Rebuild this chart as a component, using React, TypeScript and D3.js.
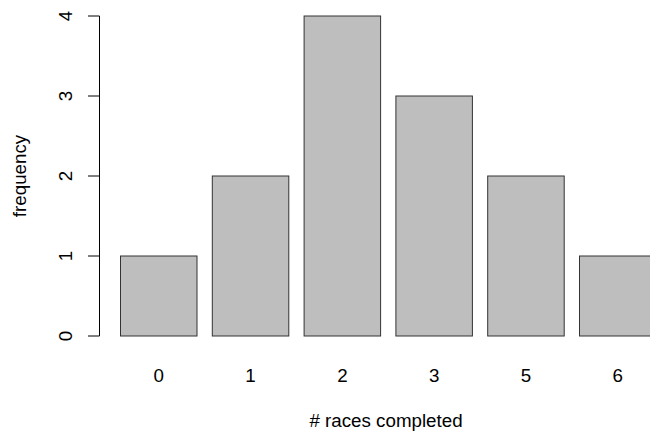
import React, { useRef, useEffect } from "react";
import * as d3 from "d3";

const categories = ["0", "1", "2", "3", "5", "6"];
const frequency = [1, 2, 4, 3, 2, 1];
const yTicks = [0, 1, 2, 3, 4];

const App = () => {
  const svgRef = useRef<SVGSVGElement>(null);

  useEffect(() => {
    const w = 650;
    const h = 434;
    const svg = d3.select(svgRef.current);
    svg.selectAll("*").remove();

    const step = 91.8;
    const x0 = 105.2;
    const xScale = d3
      .scaleBand()
      .domain(categories)
      .range([x0, x0 + step * (categories.length + 1 / 6)])
      .paddingInner(1 / 6)
      .paddingOuter(1 / 6);

    const yScale = d3.scaleLinear().domain([0, 4]).range([336, 16]);

    const font = "'Liberation Sans', Arial, sans-serif";
    const fs = 18.75;

    svg
      .append("g")
      .selectAll("rect")
      .data(frequency)
      .join("rect")
      .attr("x", (d, i) => xScale(categories[i])!)
      .attr("y", (d) => yScale(d))
      .attr("width", xScale.bandwidth())
      .attr("height", (d) => yScale(0) - yScale(d))
      .attr("fill", "#bebebe")
      .attr("stroke", "#333")
      .attr("stroke-width", 1);

    // y axis
    const ya = svg.append("g").attr("stroke", "#000");
    ya.append("line")
      .attr("x1", 99.5)
      .attr("x2", 99.5)
      .attr("y1", yScale(0))
      .attr("y2", yScale(4));
    ya.selectAll("line.tick")
      .data(yTicks)
      .join("line")
      .attr("class", "tick")
      .attr("x1", 88)
      .attr("x2", 99.5)
      .attr("y1", (d) => yScale(d))
      .attr("y2", (d) => yScale(d));

    svg
      .append("g")
      .selectAll("text")
      .data(yTicks)
      .join("text")
      .attr("transform", (d) => `translate(72,${yScale(d)}) rotate(-90)`)
      .attr("text-anchor", "middle")
      .attr("font-family", font)
      .attr("font-size", fs)
      .text((d) => d);

    svg
      .append("g")
      .selectAll("text")
      .data(categories)
      .join("text")
      .attr("x", (d) => xScale(d)! + xScale.bandwidth() / 2)
      .attr("y", 382)
      .attr("text-anchor", "middle")
      .attr("font-family", font)
      .attr("font-size", fs)
      .text((d) => d);

    svg
      .append("text")
      .attr("x", 386)
      .attr("y", 427)
      .attr("text-anchor", "middle")
      .attr("font-family", font)
      .attr("font-size", fs)
      .text("# races completed");

    svg
      .append("text")
      .attr("transform", "translate(26,176) rotate(-90)")
      .attr("text-anchor", "middle")
      .attr("font-family", font)
      .attr("font-size", fs)
      .text("frequency");

    svg.attr("width", w).attr("height", h);
  }, []);

  return (
    <div style={{ position: "absolute", left: 0, top: 0 }}>
      <svg ref={svgRef} style={{ display: "block" }}></svg>
    </div>
  );
};

export default App;
